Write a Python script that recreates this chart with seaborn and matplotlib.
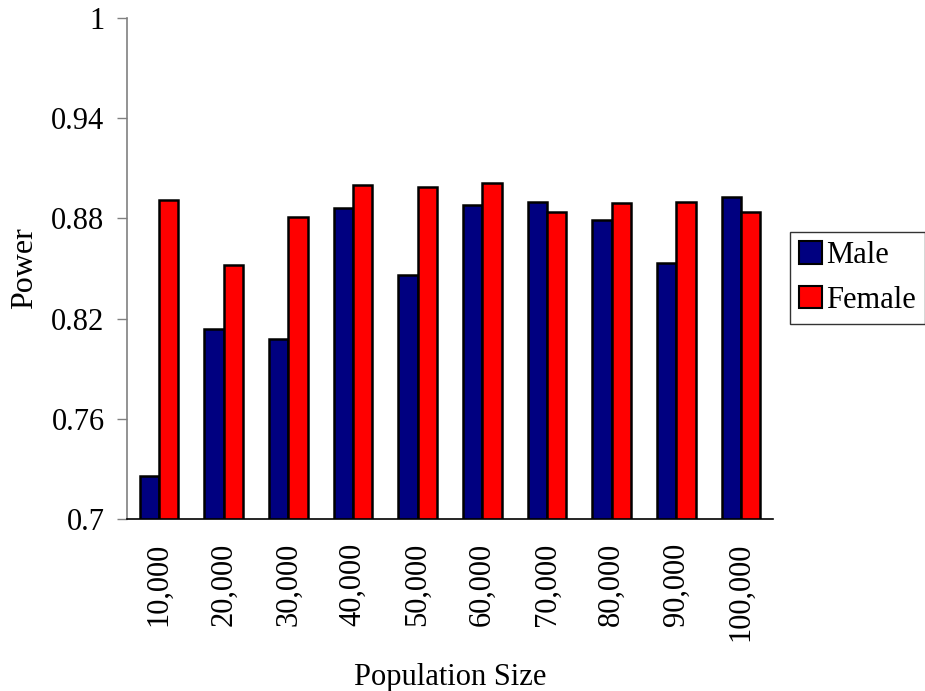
import pandas as pd
import numpy as np
import seaborn as sns
import matplotlib.pyplot as plt
from matplotlib.patches import Patch

# values
sizes = ["10,000", "20,000", "30,000", "40,000", "50,000",
         "60,000", "70,000", "80,000", "90,000", "100,000"]
male = [0.726, 0.814, 0.808, 0.886, 0.846, 0.888, 0.890, 0.879, 0.853, 0.893]
female = [0.891, 0.852, 0.881, 0.900, 0.899, 0.901, 0.884, 0.889, 0.890, 0.884]
y_ticks = [0.7, 0.76, 0.82, 0.88, 0.94, 1.0]
y_tick_labels = ["0.7", "0.76", "0.82", "0.88", "0.94", "1"]

df = pd.DataFrame({
    "size": sizes * 2,
    "power": male + female,
    "sex": ["Male"] * len(sizes) + ["Female"] * len(sizes),
})

sns.set_style("white")
plt.rcParams["font.family"] = ["Liberation Serif", "DejaVu Serif"]
plt.rcParams["text.color"] = "black"
plt.rcParams["axes.labelcolor"] = "black"
fs = 22

fig = plt.figure(figsize=(9.25, 6.91), dpi=100)
ax = fig.add_axes([0.137, 0.249, 0.699, 0.725])

palette = {"Male": "#000080", "Female": "#FF0000"}
sns.barplot(data=df, x="size", y="power", hue="sex", palette=palette,
            width=0.6, edgecolor="black", linewidth=1.8, saturation=1,
            ax=ax, legend=False)

ax.set_ylim(0.7, 1.0)
ax.set_xlim(-0.5, len(sizes) - 0.5)
ax.set_yticks(y_ticks)
ax.set_yticklabels(y_tick_labels, fontsize=fs)
ax.set_xticks(range(len(sizes)))
ax.set_xticklabels(sizes, rotation=90, fontsize=fs)
ax.set_xticks(np.arange(-0.5, len(sizes)), minor=True)
ax.tick_params(axis="x", which="major", length=0, pad=17, labelcolor="black")
ax.tick_params(axis="x", which="minor", length=7, width=1, color="#808080", direction="out")
ax.tick_params(axis="y", length=7, width=1, color="#808080", direction="out", pad=9,
               left=True, labelcolor="black")

for s in ["top", "right"]:
    ax.spines[s].set_visible(False)
ax.spines["left"].set_color("#808080")
ax.spines["bottom"].set_color("black")
ax.spines["left"].set_linewidth(1.2)
ax.spines["bottom"].set_linewidth(1.2)

ax.set_xlabel("Population Size", fontsize=fs, labelpad=16)
ax.set_ylabel("Power", fontsize=fs + 1, labelpad=9)

handles = [Patch(facecolor=palette["Male"], edgecolor="black", linewidth=1.5, label="Male"),
           Patch(facecolor=palette["Female"], edgecolor="black", linewidth=1.5, label="Female")]
leg = fig.legend(handles=handles, loc="upper left", bbox_to_anchor=(0.854, 0.664),
                 fontsize=fs, frameon=True, fancybox=False, handlelength=0.75,
                 handleheight=0.75, handletextpad=0.12, borderpad=0.3, labelspacing=0.5,
                 borderaxespad=0)
leg.get_frame().set_edgecolor("black")
leg.get_frame().set_linewidth(1.0)

fig.savefig("out.png", dpi=100)
